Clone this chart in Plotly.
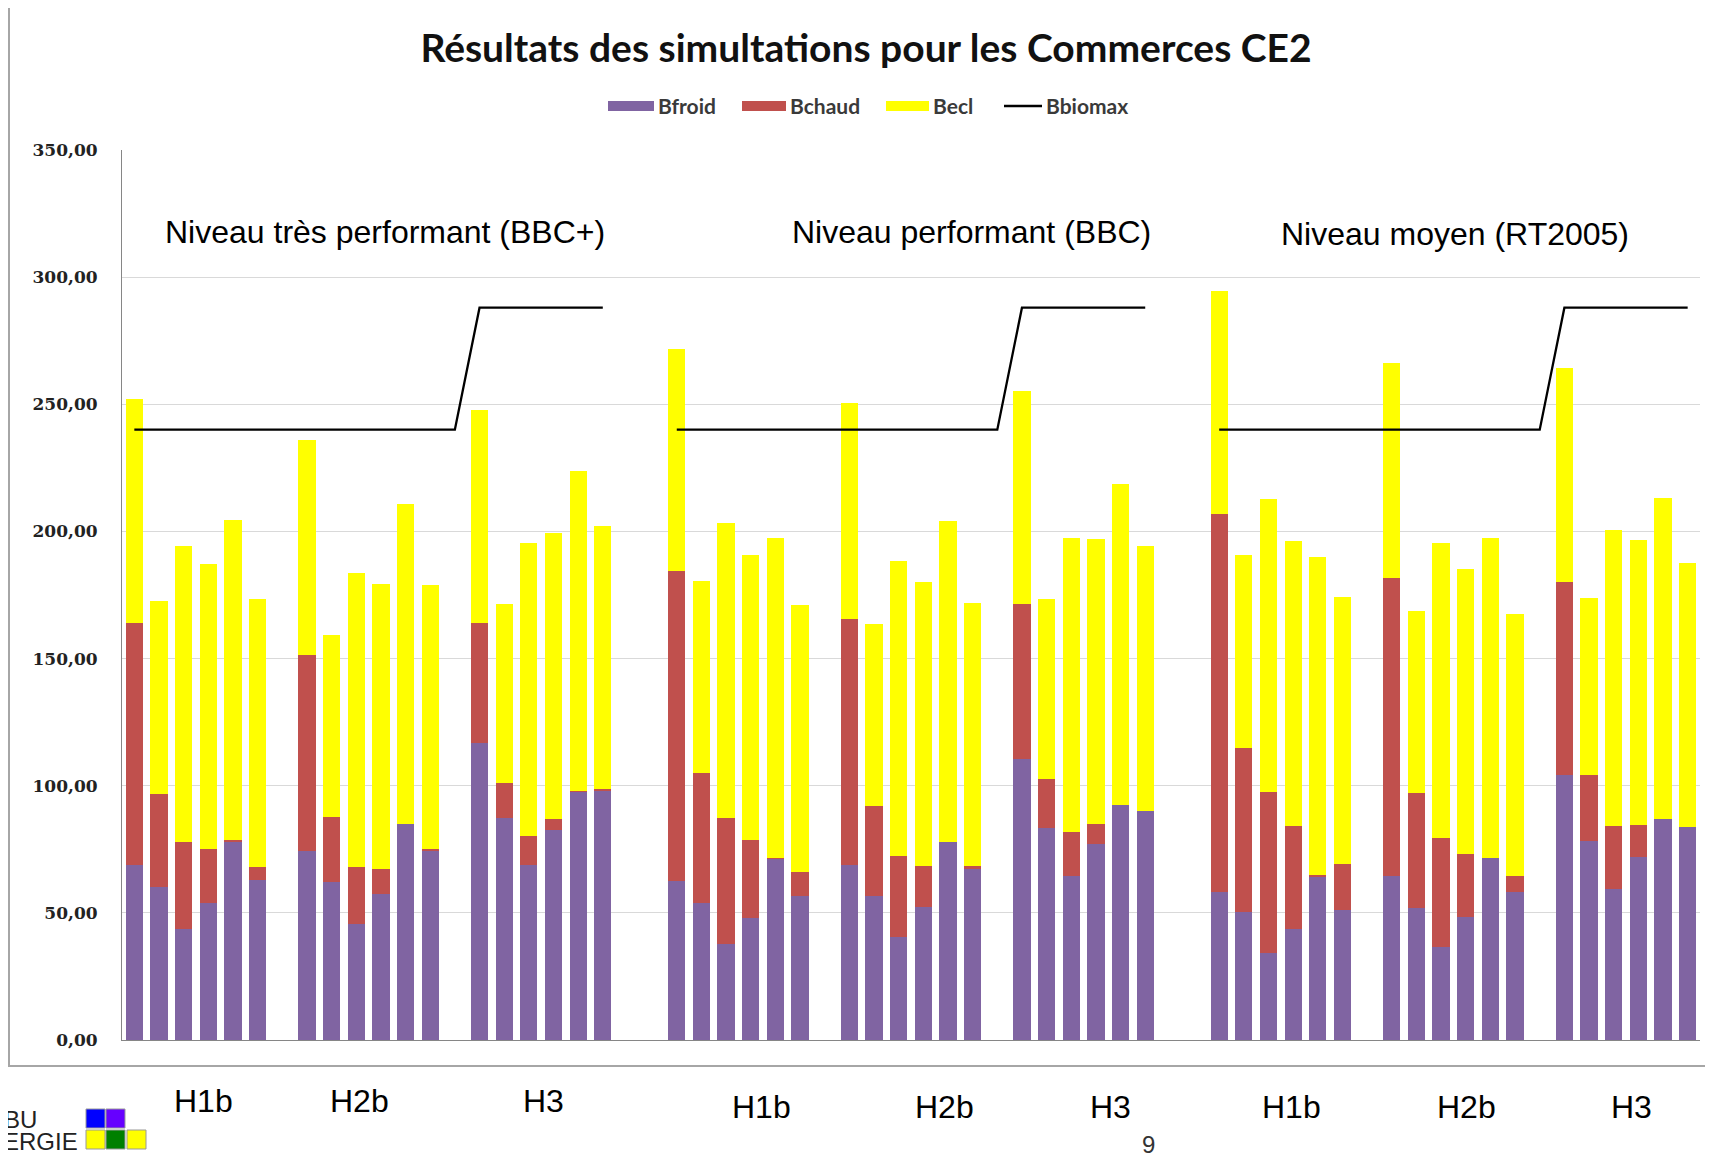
import plotly.graph_objects as go

# ---------------- data ----------------
levels = ["Niveau très performant (BBC+)", "Niveau performant (BBC)", "Niveau moyen (RT2005)"]
zones = ["H1b", "H2b", "H3"]
series_names = ["Bfroid", "Bchaud", "Becl", "Bbiomax"]
bbiomax_zone = [240, 240, 288]

# 18 values per level (3 zones x 6 simulations)
bfroid_bbcp = [69.0, 60.2, 43.5, 53.7, 77.9, 63.0,
               74.5, 62.2, 45.5, 57.4, 84.9, 74.5,
               116.7, 87.4, 69.0, 82.6, 97.6, 98.3]
bchaud_bbcp = [95.1, 36.6, 34.4, 21.3, 0.7, 5.2,
               76.8, 25.6, 22.7, 9.9, 0.0, 0.5,
               47.4, 13.5, 11.1, 4.3, 0.4, 0.4]
becl_bbcp = [88.1, 75.8, 116.2, 112.1, 125.9, 105.4,
             84.7, 71.5, 115.5, 112.1, 125.9, 103.8,
             83.8, 70.7, 115.4, 112.5, 125.7, 103.6]

bfroid_bbc = [62.6, 54.0, 37.9, 47.9, 71.2, 56.5,
              69.0, 56.5, 40.6, 52.5, 77.8, 67.2,
              110.5, 83.3, 64.4, 77.2, 92.4, 90.0]
bchaud_bbc = [121.7, 51.0, 49.4, 30.6, 0.5, 9.7,
              96.6, 35.4, 31.7, 16.1, 0.0, 1.4,
              61.0, 19.2, 17.4, 7.7, 0.0, 0.0]
becl_bbc = [87.5, 75.6, 116.2, 112.2, 125.8, 104.7,
            84.9, 71.7, 116.0, 111.7, 126.2, 103.2,
            83.6, 70.8, 115.7, 112.2, 126.1, 104.3]

bfroid_rt = [58.4, 50.5, 34.1, 43.6, 64.4, 51.1,
             64.4, 51.9, 36.6, 48.5, 71.7, 58.4,
             104.3, 78.2, 59.4, 71.9, 87.1, 83.6]
bchaud_rt = [148.5, 64.3, 63.3, 40.6, 0.3, 18.2,
             117.2, 45.1, 43.0, 24.8, 0.0, 6.0,
             75.9, 26.1, 24.8, 12.6, 0.0, 0.0]
becl_rt = [87.7, 75.9, 115.5, 112.2, 125.4, 104.9,
           84.5, 71.7, 115.8, 111.8, 125.9, 103.3,
           84.1, 69.5, 116.2, 112.1, 126.1, 104.1]

bfroid = [bfroid_bbcp, bfroid_bbc, bfroid_rt]
bchaud = [bchaud_bbcp, bchaud_bbc, bchaud_rt]
becl = [becl_bbcp, becl_bbc, becl_rt]

y_ticks = [0, 50, 100, 150, 200, 250, 300, 350]

COL_FROID, COL_CHAUD, COL_ECL, COL_BIO = "#8064A2", "#C0504D", "#FFFF00", "#000000"

# ---------------- build slots ----------------
N_SIM = 6
bar_x, y_f, y_c, y_e = [], [], [], []
line_x, line_y = [], []
slot = 0
for li in range(len(levels)):
    for zi in range(len(zones)):
        for k in range(N_SIM):
            i = zi * N_SIM + k
            bar_x.append(slot)
            y_f.append(bfroid[li][i]); y_c.append(bchaud[li][i]); y_e.append(becl[li][i])
            line_x.append(slot); line_y.append(bbiomax_zone[zi])
            slot += 1
        if zi < len(zones) - 1:
            # empty slot between zones (line keeps the value of the zone before)
            line_x.append(slot); line_y.append(bbiomax_zone[zi])
            slot += 1
    if li < len(levels) - 1:
        line_x.append(None); line_y.append(None)
        slot += 2
n_slots = slot

# ---------------- pixel helpers (screen coordinates) ----------------
SCREEN_W, SCREEN_H = 1713, 1153
OFF = 8                      # default body margin of the page
W, H = SCREEN_W - OFF, SCREEN_H - OFF
PL, PR, PT, PB = 122, 1700, 150, 1040
def px(x):
    return (x - PL) / (PR - PL)
def py(y):
    return (PB - y) / (PB - PT)

fig = go.Figure()
fig.add_trace(go.Bar(x=bar_x, y=y_f, name=series_names[0], marker_color=COL_FROID, marker_line_width=0))
fig.add_trace(go.Bar(x=bar_x, y=y_c, name=series_names[1], marker_color=COL_CHAUD, marker_line_width=0))
fig.add_trace(go.Bar(x=bar_x, y=y_e, name=series_names[2], marker_color=COL_ECL, marker_line_width=0))
fig.add_trace(go.Scatter(x=line_x, y=line_y, name=series_names[3], mode="lines",
                         line=dict(color=COL_BIO, width=2.3), connectgaps=False))

annotations = []
shapes = []

# custom legend (wide Excel-like swatches)
LEG_Y = 106
leg_font = dict(family="Lato, sans-serif", size=21, color="#3a3a3a", weight="bold")
leg_items = [(608, 654, COL_FROID, "rect"), (742, 786, COL_CHAUD, "rect"),
             (886, 929, COL_ECL, "rect"), (1004, 1042, COL_BIO, "line")]
for (x0, x1, c, kind), name in zip(leg_items, series_names):
    if kind == "rect":
        shapes.append(dict(type="rect", xref="paper", yref="paper", x0=px(x0), x1=px(x1),
                           y0=py(LEG_Y + 5), y1=py(LEG_Y - 5), fillcolor=c, line=dict(width=0)))
    else:
        shapes.append(dict(type="line", xref="paper", yref="paper", x0=px(x0), x1=px(x1),
                           y0=py(LEG_Y), y1=py(LEG_Y), line=dict(color=c, width=2.5)))
    annotations.append(dict(text=name, xref="paper", yref="paper", x=px(x1 + 2), y=py(LEG_Y - 0.5),
                            showarrow=False, xanchor="left", yanchor="middle", font=leg_font))

# level titles
lvl_pos = [(385, 232), (971, 232), (1455, 234)]
for t, (x, y) in zip(levels, lvl_pos):
    annotations.append(dict(text=t, xref="paper", yref="paper", x=px(x), y=py(y),
                            showarrow=False, xanchor="center", yanchor="middle",
                            font=dict(family="Liberation Sans, Arial", size=32, color="black")))
# zone labels below chart
zone_pos = [(203, 1101), (359, 1101), (543, 1101),
            (761, 1107), (944, 1107), (1110, 1107),
            (1291, 1107), (1466, 1107), (1631, 1107)]
for j, (x, y) in enumerate(zone_pos):
    annotations.append(dict(text=zones[j % 3], xref="paper", yref="paper", x=px(x), y=py(y),
                            showarrow=False, xanchor="center", yanchor="middle",
                            font=dict(family="Liberation Sans, Arial", size=32, color="black")))
# logo text
annotations.append(dict(text="BU", xref="paper", yref="paper", x=px(39), y=py(1119),
                        showarrow=False, xanchor="right", yanchor="middle", height=21,
                        font=dict(family="Liberation Sans, Arial", size=24, color="#222")))
annotations.append(dict(text="ERGIE", xref="paper", yref="paper", x=px(80), y=py(1141),
                        showarrow=False, xanchor="right", yanchor="middle", height=21,
                        font=dict(family="Liberation Sans, Arial", size=24, color="#222")))
# page number (partly cut at the bottom, as on the slide)
annotations.append(dict(text="9", xref="paper", yref="paper", x=px(1148), y=py(1144),
                        showarrow=False, xanchor="center", yanchor="middle",
                        font=dict(family="Liberation Sans, Arial", size=24, color="#333")))

# chart frame
shapes.append(dict(type="rect", xref="paper", yref="paper", x0=px(9), x1=px(1730), y0=py(1066), y1=py(3),
                   line=dict(color="#A6A6A6", width=2), fillcolor="rgba(0,0,0,0)", layer="below"))
# logo squares
sq = [(86, 1109, "#0000FF"), (106, 1109, "#6600FF"),
      (86, 1130, "#FFFF00"), (106, 1130, "#008000"), (127, 1130, "#FFFF00")]
for x0, y0, c in sq:
    shapes.append(dict(type="rect", xref="paper", yref="paper", x0=px(x0), x1=px(x0 + 19),
                       y0=py(y0 + 19), y1=py(y0), fillcolor=c, line=dict(color="#999", width=1)))

fig.update_layout(
    width=W, height=H,
    margin=dict(l=PL - OFF, r=SCREEN_W - PR, t=PT - OFF, b=SCREEN_H - PB, autoexpand=False),
    paper_bgcolor="white", plot_bgcolor="white",
    barmode="stack", bargap=0.3,
    separators=", ",
    showlegend=False,
    title=dict(text="<b>Résultats des simultations pour les Commerces CE2</b>",
               xref="container", yref="container",
               x=(866 - OFF) / W, y=1 - (48 - OFF) / H, xanchor="center", yanchor="middle",
               font=dict(family="Lato, Open Sans, sans-serif", size=39, color="#111")),
    xaxis=dict(range=[-0.5, n_slots - 0.5], showticklabels=False, ticks="", showgrid=False,
               zeroline=False, showline=True, linecolor="#868686", linewidth=1),
    yaxis=dict(range=[0, 350], tickvals=y_ticks, tickformat=".2f", showgrid=True,
               gridcolor="#D9D9D9", gridwidth=1, zeroline=False, showline=True,
               linecolor="#868686", linewidth=1, ticks="", ticklabelstandoff=20,
               tickfont=dict(family="DejaVu Serif, serif", size=17, color="#222", weight="bold")),
    annotations=annotations, shapes=shapes,
)

fig.write_html("out.html")
